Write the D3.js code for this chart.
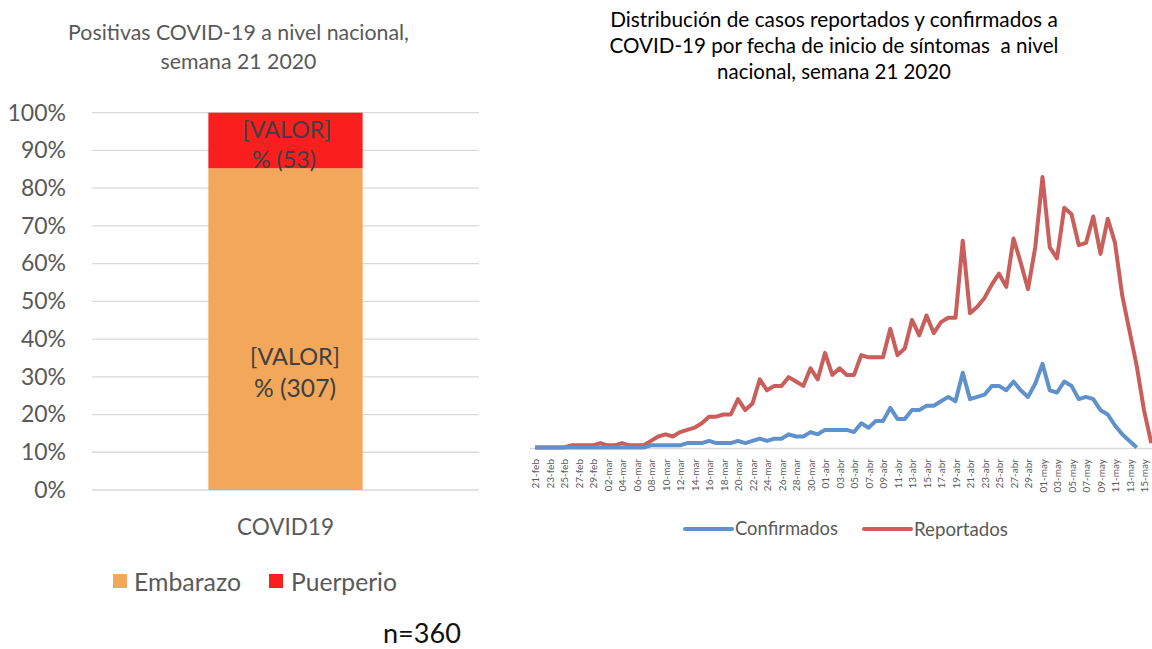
<!DOCTYPE html>
<html><head><meta charset="utf-8">
<script src="https://cdn.jsdelivr.net/npm/d3@7"></script>
<style>html,body{margin:0;padding:0;background:#fff;} svg{display:block;font-family:Lato,"Open Sans",sans-serif;}</style>
</head><body>
<svg id="c" width="1152" height="649"></svg>
<script>
// ---- Left chart data ----
const barCategories = ["COVID19"];
const barSeries = ["Embarazo", "Puerperio"];
const barValues = [307, 53];
const barLabelsTop = ["[VALOR]", "[VALOR]"];
const barLabelsBottom = ["% (307)", "% (53)"];
const pctTicks = [0, 0.1, 0.2, 0.3, 0.4, 0.5, 0.6, 0.7, 0.8, 0.9, 1.0];
const nTotal = "n=360";

// ---- Right chart data ----
const dates = [
 "21-feb","22-feb","23-feb","24-feb","25-feb","26-feb","27-feb","28-feb","29-feb",
 "01-mar","02-mar","03-mar","04-mar","05-mar","06-mar","07-mar","08-mar","09-mar","10-mar",
 "11-mar","12-mar","13-mar","14-mar","15-mar","16-mar","17-mar","18-mar","19-mar","20-mar",
 "21-mar","22-mar","23-mar","24-mar","25-mar","26-mar","27-mar","28-mar","29-mar","30-mar","31-mar",
 "01-abr","02-abr","03-abr","04-abr","05-abr","06-abr","07-abr","08-abr","09-abr","10-abr",
 "11-abr","12-abr","13-abr","14-abr","15-abr","16-abr","17-abr","18-abr","19-abr","20-abr",
 "21-abr","22-abr","23-abr","24-abr","25-abr","26-abr","27-abr","28-abr","29-abr","30-abr",
 "01-may","02-may","03-may","04-may","05-may","06-may","07-may","08-may","09-may","10-may",
 "11-may","12-may","13-may","14-may","15-may","16-may"];
const reportados = [
 0,0,0,0,0,1,1,1,1,2,
 1,1,2,1,1,1,3,5,6,5,
 7,8,9,11,14,14,15,15,22,17,
 20,31,26,28,28,32,30,28,36,31,
 43,33,36,33,33,42,41,41,41,54,
 42,45,58,51,60,52,57,59,59,94,
 61,64,68,74,79,73,95,84,72,91,
 123,91,86,109,106,92,93,105,88,104,
 93,69,53,37,17,2];
const confirmados = [
 0,0,0,0,0,0,0,0,0,0,
 0,0,0,0,0,0,1,1,1,1,
 1,2,2,2,3,2,2,2,3,2,
 3,4,3,4,4,6,5,5,7,6,
 8,8,8,8,7,11,9,12,12,18,
 13,13,17,17,19,19,21,23,21,34,
 22,23,24,28,28,26,30,26,23,29,
 38,26,25,30,28,22,23,22,17,15,
 10,6,3,0,null,null];
const lineSeries = ["Confirmados", "Reportados"];

const svg = d3.select("#c");
const C = { orange: "#F2A75B", red: "#F81F1E", blue: "#5F91CC", rline: "#C95E5B", grid: "#D9D9D9", txt: "#595959" };

function fit(sel, w) {
  sel.each(function () {
    const t = d3.select(this);
    const fs = parseFloat(t.attr("font-size"));
    const m = this.getComputedTextLength();
    if (m > 0) t.attr("font-size", fs * w / m);
  });
  return sel;
}

// ================= LEFT CHART =================
const L = svg.append("g");
const yL = d3.scaleLinear().domain([0, 1]).range([490, 112.7]);
const xL = d3.scaleBand().domain(barCategories).range([92, 479]).paddingInner(0.43).paddingOuter(0.43);

L.append("text").attr("x", 238.5).attr("y", 33).attr("dy", "0.35em").attr("text-anchor", "middle")
  .attr("font-size", 18).attr("fill", C.txt).text("Positivas COVID-19 a nivel nacional,").call(fit, 341);
L.append("text").attr("x", 238.5).attr("y", 62).attr("dy", "0.35em").attr("text-anchor", "middle")
  .attr("font-size", 18).attr("fill", C.txt).text("semana 21 2020").call(fit, 156);

// gridlines
L.append("g").selectAll("line").data(pctTicks).join("line")
  .attr("x1", 92).attr("x2", 479).attr("y1", d => yL(d)).attr("y2", d => yL(d))
  .attr("stroke", C.grid).attr("stroke-width", 1.3);
// y tick labels
const yAxisL = d3.axisLeft(yL).tickValues(pctTicks).tickFormat(d3.format(".0%")).tickSize(0).tickPadding(0);
const gy = L.append("g").attr("transform", "translate(66,0)").call(yAxisL);
gy.select(".domain").remove();
gy.selectAll("text").attr("font-size", 23).attr("fill", C.txt).attr("font-family", "Lato");

// stacked bar
const total = d3.sum(barValues);
const stackData = [Object.fromEntries([["cat", barCategories[0]], ...barSeries.map((s, i) => [s, barValues[i] / total])])];
const stacked = d3.stack().keys(barSeries)(stackData);
const colors = [C.orange, C.red];
stacked.forEach((layer, i) => {
  L.append("g").selectAll("rect").data(layer).join("rect")
    .attr("x", d => xL(d.data.cat)).attr("width", xL.bandwidth())
    .attr("y", d => yL(d[1])).attr("height", d => yL(d[0]) - yL(d[1]))
    .attr("fill", colors[i]);
});
// bar labels
const lblX = [xL(barCategories[0]) + xL.bandwidth() / 2 + 9.5, xL(barCategories[0]) + xL.bandwidth() / 2 + 1.5];
const lblY = [[357, 388], [130, 160]];
const lblW = [[90, 82], [89, 64]];
barSeries.forEach((s, i) => {
  L.append("text").attr("x", lblX[i]).attr("y", lblY[i][0]).attr("dy", "0.35em").attr("text-anchor", "middle")
    .attr("font-size", 22).attr("fill", "#404040").text(barLabelsTop[i]).call(fit, lblW[i][0]);
  L.append("text").attr("x", lblX[i] - (i ? 3 : 0)).attr("y", lblY[i][1]).attr("dy", "0.35em").attr("text-anchor", "middle")
    .attr("font-size", 22).attr("fill", "#404040").text(barLabelsBottom[i]).call(fit, lblW[i][1]);
});
// category label
const xAxisL = d3.axisBottom(xL).tickSize(0).tickPadding(0);
const gx = L.append("g").attr("transform", "translate(0,527)").call(xAxisL);
gx.select(".domain").remove();
gx.selectAll("text").attr("dy", "0.35em").attr("font-size", 21).attr("fill", C.txt).attr("font-family", "Lato").call(fit, 97);

// legend
const legL = [{ x: 113, tx: 134, w: 107 }, { x: 269, tx: 291, w: 106 }];
barSeries.forEach((s, i) => {
  L.append("rect").attr("x", legL[i].x).attr("y", 574).attr("width", 14).attr("height", 14).attr("fill", colors[i]);
  L.append("text").attr("x", legL[i].tx).attr("y", 582).attr("dy", "0.35em").attr("font-size", 21)
    .attr("fill", C.txt).text(s).call(fit, legL[i].w);
});
L.append("text").attr("x", 383).attr("y", 634).attr("dy", "0.35em").attr("font-size", 26)
  .attr("fill", "#111").text(nTotal).call(fit, 78);

// ================= RIGHT CHART =================
const R = svg.append("g");
const titleLines = [
  ["Distribución de casos reportados y confirmados a", 20, 448],
  ["COVID-19 por fecha de inicio de síntomas  a nivel", 46, 449],
  ["nacional, semana 21 2020", 72, 234]];
titleLines.forEach(([t, y, w]) => {
  R.append("text").attr("x", 834).attr("y", y).attr("dy", "0.35em").attr("text-anchor", "middle")
    .style("white-space", "pre").attr("font-size", 18).attr("fill", "#000").text(t).call(fit, w);
});

const xR = d3.scalePoint().domain(dates).range([535, 535 + 7.25 * (dates.length - 1)]);
const yR = d3.scaleLinear().domain([0, 130]).range([447.5, 447.5 - 130 * 2.2]);

// axis line
R.append("line").attr("x1", 530).attr("x2", 1152).attr("y1", 448.5).attr("y2", 448.5)
  .attr("stroke", C.grid).attr("stroke-width", 1.5);

// tick labels
const xAxisR = d3.axisBottom(xR).tickValues(dates.filter((d, i) => i % 2 === 0 && i <= 84)).tickSize(0).tickPadding(0);
const gxr = R.append("g").attr("transform", "translate(0,459)").call(xAxisR);
gxr.select(".domain").remove();
gxr.selectAll("text").attr("transform", "rotate(-90)").attr("text-anchor", "end")
  .attr("x", 0).attr("y", 0).attr("dy", "0.35em").attr("font-size", 10).attr("fill", C.txt).attr("font-family", "Lato");

const line = d3.line().defined(d => d.v != null).x(d => xR(d.date)).y(d => yR(d.v));
const mk = arr => dates.map((date, i) => ({ date, v: arr[i] }));
R.append("path").datum(mk(reportados)).attr("d", line).attr("fill", "none")
  .attr("stroke", C.rline).attr("stroke-width", 4).attr("stroke-linejoin", "round");
R.append("path").datum(mk(confirmados)).attr("d", line).attr("fill", "none")
  .attr("stroke", C.blue).attr("stroke-width", 4).attr("stroke-linejoin", "round");

// legend
const legR = [{ x1: 685, x2: 732, tx: 735, w: 103, c: C.blue }, { x1: 864, x2: 911, tx: 914, w: 94, c: C.rline }];
lineSeries.forEach((s, i) => {
  R.append("line").attr("x1", legR[i].x1).attr("x2", legR[i].x2).attr("y1", 529).attr("y2", 529)
    .attr("stroke", legR[i].c).attr("stroke-width", 4).attr("stroke-linecap", "round");
  R.append("text").attr("x", legR[i].tx).attr("y", 529).attr("dy", "0.35em").attr("font-size", 18)
    .attr("fill", C.txt).text(s).call(fit, legR[i].w);
});
</script>
</body></html>
